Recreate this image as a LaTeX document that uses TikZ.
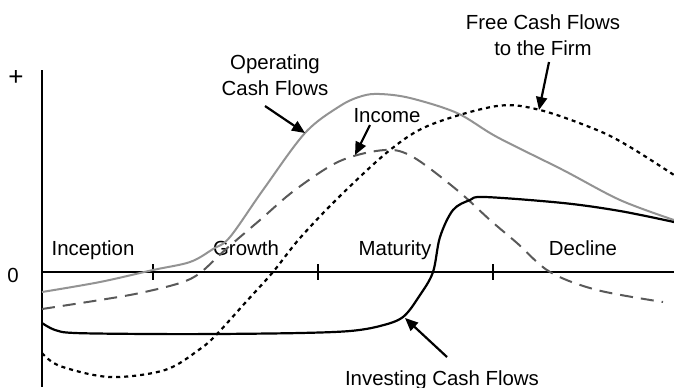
\documentclass[tikz,border=0pt]{standalone}
\usepackage{fontspec}
\setmainfont{Liberation Sans}
\usetikzlibrary{arrows.meta}
\begin{document}
\begin{tikzpicture}[x=0.5pt,y=-0.5pt,
	lbl/.style={font=\fontsize{10.2}{13.2}\selectfont, align=center, inner sep=0pt},
	axis/.style={line width=1.25pt, black},
	arr/.style={-{Triangle[length=6.5pt,width=5.5pt]}, line width=1.1pt},
	opcf/.style={line width=1pt, gray!85!white, smooth, tension=0.55},
	inc/.style={line width=1pt, black!65, dash pattern=on 6.5pt off 4pt, smooth, tension=0.55},
	fcf/.style={line width=1.1pt, black, dash pattern=on 2pt off 2pt, smooth, tension=0.55},
	invcf/.style={line width=1.1pt, black, smooth, tension=0.55}]
		\useasboundingbox (0,0) rectangle (674,387);
		
		\coordinate (top) at (42,70);
		\coordinate (bot) at (42,387);
		\coordinate (o) at (42,272);
		\coordinate (end) at (674,272);
		\draw[axis] (top) -- (bot);
		\draw[axis] (o) -- (end);
		\node[lbl, font=\fontsize{13}{13}\selectfont] at (16,78) (plus) {+};
		\node[lbl, anchor=base] at (13,282) (zero) {0};
		
		\foreach \t in {153,318,493}
			\draw[axis] (\t,264) -- (\t,280);
		
		\node[lbl, anchor=base] at (93,255) (incep) {Inception};
		\node[lbl, anchor=base] at (246,255) (growth) {Growth};
		\node[lbl, anchor=base] at (395,255) (matur) {Maturity};
		\node[lbl, anchor=base] at (583,255) (decl) {Decline};
		
		\draw[opcf] plot coordinates {(42,292) (100,282) (153,270) (190,262) (213,249) (230,237) (263,190) (305,133) (340,106) (362,96) (380,94) (410,98) (457,113) (497,137) (563,170) (620,200) (674,220)};
		\draw[inc] plot coordinates {(42,309) (100,300) (140,293) (180,283) (200,273) (225,250) (260,220) (295,190) (340,161) (385,150) (413,157) (457,190) (490,220) (517,243) (550,272) (597,290) (663,302)};
		\draw[fcf] plot coordinates {(42,353) (60,366) (110,377) (165,370) (200,349) (217,334) (245,303) (273,272) (300,238) (340,196) (390,150) (430,125) (497,106) (540,110) (597,130) (630,147) (674,175)};
		\draw[invcf] plot coordinates {(42,323) (55,330) (75,333) (150,334) (216,334) (300,333) (350,331) (380,326) (403,317) (420,295) (433,272) (440,237) (453,210) (470,200) (485,197) (563,203) (620,211) (674,222)};
		
		\node[lbl] at (275,75) (oplbl) {Operating\\Cash Flows};
		\node[lbl, anchor=base] at (387,122) (inclbl) {Income};
		\node[lbl] at (543,35) (fcflbl) {Free Cash Flows\\to the Firm};
		\node[lbl, anchor=base] at (442,385) (invlbl) {Investing Cash Flows};
		
		\coordinate (optail) at (265,106);
		\coordinate (optip) at (305,133);
		\coordinate (inctail) at (370,125);
		\coordinate (inctip) at (355,155);
		\coordinate (fcftail) at (549,62);
		\coordinate (fcftip) at (539,110);
		\coordinate (invtail) at (447,357);
		\coordinate (invtip) at (405,318);
		\draw[arr] (optail) -- (optip);
		\draw[arr] (inctail) -- (inctip);
		\draw[arr] (fcftail) -- (fcftip);
		\draw[arr] (invtail) -- (invtip);
		\end{tikzpicture}
\end{document}
